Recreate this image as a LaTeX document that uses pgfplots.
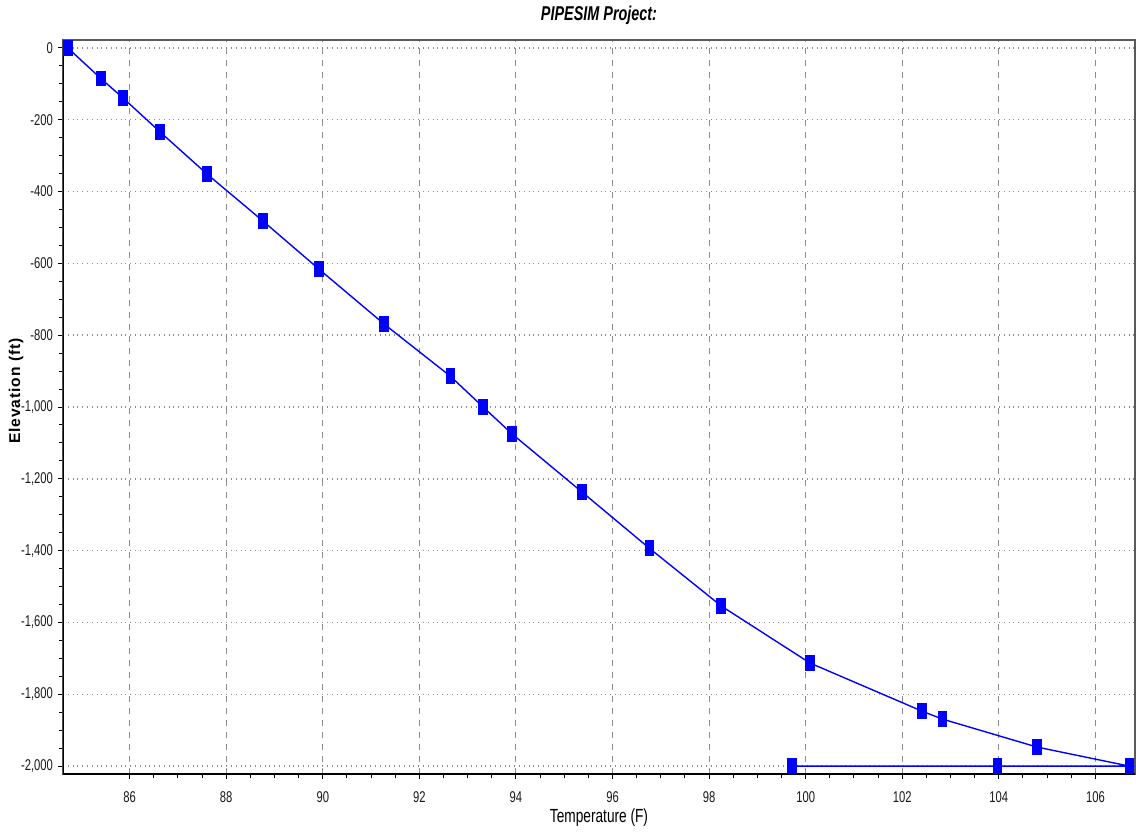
\documentclass[border=0pt]{standalone}
\usepackage{fontspec}
\setmainfont{Liberation Sans}[FakeStretch=0.72]
\newfontfamily\ylabfont{Liberation Sans}[LetterSpace=6]
\usepackage{pgfplots}
\pgfplotsset{compat=1.18}
\begin{document}
\begin{tikzpicture}
\path[use as bounding box] (-31.5pt,-28.5pt) rectangle (536.5pt,387pt);
\begin{axis}[
  at={(0,0)}, anchor=south west,
  scale only axis, width=536pt, height=367pt,
  xmin=84.62, xmax=106.82, ymin=-2022, ymax=22,
  xtick={86,88,...,106}, ytick={-2000,-1800,...,0},
  minor x tick num=3, minor y tick num=3,
  xtick pos=bottom, ytick pos=left,
  tick align=outside, major tick length=2.5pt, minor tick length=2pt,
  tick style={black, line width=0.5pt},
  /pgf/number format/assume math mode=true,
  /pgf/number format/1000 sep={,},
  ticklabel style={font=\fontsize{7.8}{9}\selectfont, text=black!90},
  xticklabel style={yshift=-3pt},
  yticklabel style={xshift=1pt},
  xmajorgrids, ymajorgrids,
  x grid style={gray!90, dashed, line width=0.55pt},
  y grid style={gray!90, dotted, line width=0.7pt},
  axis line style={draw=gray!70!black, line width=0.8pt},
  title={\bfseries\itshape PIPESIM Project:},
  title style={font=\fontsize{10}{12}\selectfont, yshift=-2pt},
  xlabel={Temperature (F)},
  xlabel style={font=\fontsize{9.5}{11}\selectfont, yshift=4pt},
  ylabel={\ylabfont\bfseries Elevation (ft)},
  ylabel style={font=\fontsize{7.8}{9}\selectfont, yshift=-8pt, xshift=8pt},
]
\addplot[blue, line width=0.7pt, mark=square*, mark size=3.5pt,
  mark options={xscale=0.57, fill=blue, draw=blue, solid}]
coordinates {
(84.72,0) (85.41,-86) (85.86,-139) (86.63,-234) (87.60,-351)
(88.76,-482) (89.92,-616) (91.27,-769) (92.64,-914) (93.32,-1000)
(93.92,-1075) (95.37,-1237) (96.76,-1393) (98.25,-1554) (100.09,-1713)
(102.41,-1847) (102.83,-1869) (104.79,-1947) (106.70,-2000)
(103.97,-2000) (99.72,-2000)
};
\draw[line width=1.5pt, black] (rel axis cs:0,1) -- (rel axis cs:0,0) -- (rel axis cs:1,0);
\end{axis}
\end{tikzpicture}
\end{document}
